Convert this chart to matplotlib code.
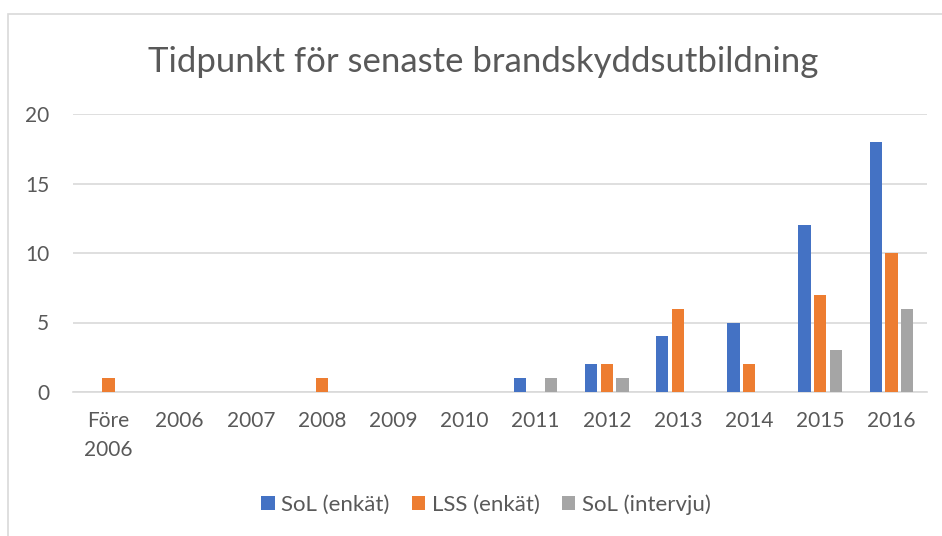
import numpy as np
import matplotlib.pyplot as plt
from matplotlib.patches import Rectangle

plt.rcParams['font.family'] = ['Lato', 'DejaVu Sans']

# Data
kategorier = ['Före\n2006', '2006', '2007', '2008', '2009', '2010',
              '2011', '2012', '2013', '2014', '2015', '2016']
sol_enkat = [0, 0, 0, 0, 0, 0, 1, 2, 4, 5, 12, 18]
lss_enkat = [1, 0, 0, 1, 0, 0, 0, 2, 6, 2, 7, 10]
sol_intervju = [0, 0, 0, 0, 0, 0, 1, 1, 0, 0, 3, 6]
serier = ['SoL (enkät)', 'LSS (enkät)', 'SoL (intervju)']
farger = ['#4472C4', '#ED7D31', '#A5A5A5']
textfarg = '#595959'

fig = plt.figure(figsize=(9.42, 5.36), dpi=100)
ax = fig.add_axes([73 / 942, 144 / 536, 854 / 942, 278 / 536])

# Chart border
fig.patches.append(Rectangle((8 / 942, -0.01), 1.0, (536 - 14) / 536 + 0.01,
                             transform=fig.transFigure, fill=False,
                             edgecolor='#D9D9D9', linewidth=1.2))

x = np.arange(len(kategorier))
bredd = 0.175
steg = 0.22
for i, (vals, namn, farg) in enumerate(zip([sol_enkat, lss_enkat, sol_intervju], serier, farger)):
    ax.bar(x + (i - 1) * steg, vals, width=bredd, color=farg, label=namn, zorder=3)

ax.set_xlim(-0.5, len(kategorier) - 0.5)
ax.set_ylim(0, 20)
ax.set_yticks([0, 5, 10, 15, 20])
ax.set_xticks(x)
ax.set_xticklabels(kategorier, linespacing=1.55)
ax.yaxis.grid(True, color='#D9D9D9', linewidth=1.2, zorder=0)
ax.tick_params(axis='both', length=0, labelsize=15, colors=textfarg)
ax.tick_params(axis='y', pad=17)
ax.tick_params(axis='x', pad=14)
for s in ['top', 'right', 'left']:
    ax.spines[s].set_visible(False)
ax.spines['bottom'].set_color('#D9D9D9')
ax.spines['bottom'].set_linewidth(1.2)

fig.text(0.513, 0.885, 'Tidpunkt för senaste brandskyddsutbildning',
         ha='center', va='center', fontsize=25, color=textfarg)

leg = fig.legend(loc='center', bbox_to_anchor=(0.516, 0.058), ncol=3,
                 frameon=False, fontsize=16, handlelength=0.6, handleheight=0.6,
                 handletextpad=0.3, columnspacing=1.0)
for t in leg.get_texts():
    t.set_color(textfarg)

fig.savefig('out.png', dpi=100)
